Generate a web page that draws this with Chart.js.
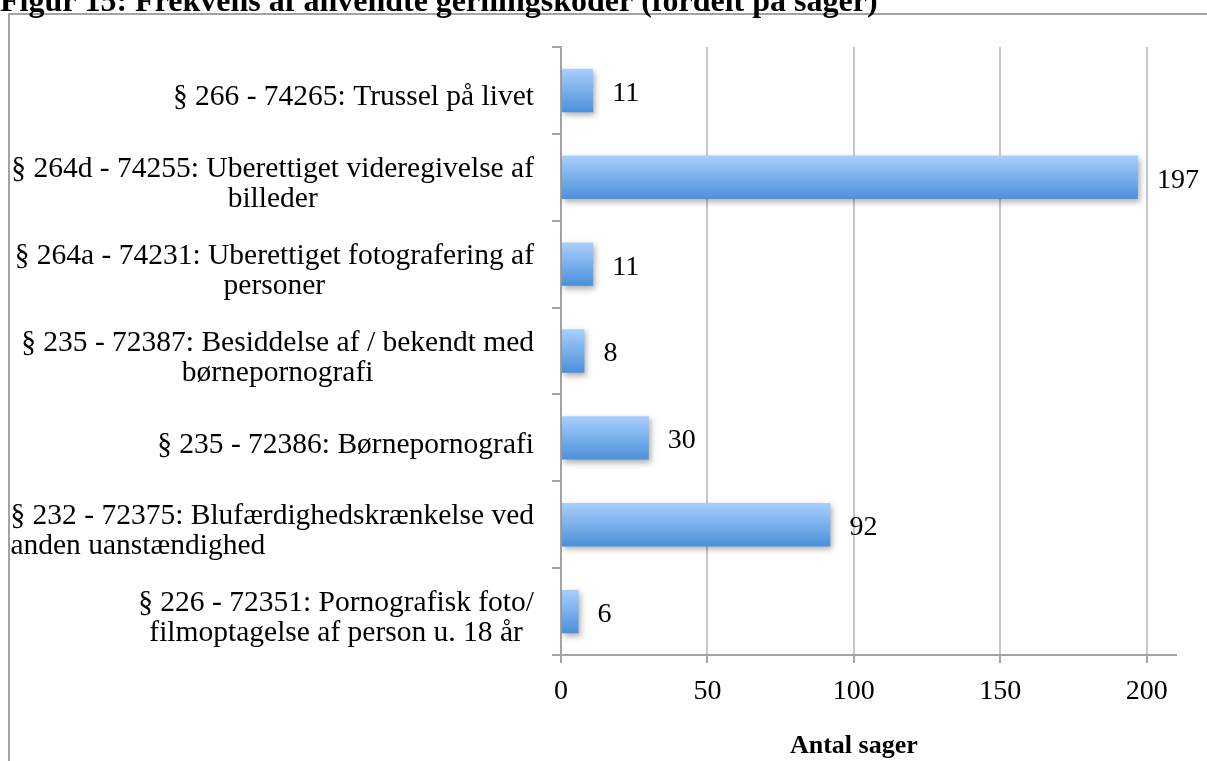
<!DOCTYPE html>
<html>
<head>
<meta charset="utf-8">
<script src="https://cdn.jsdelivr.net/npm/chart.js@4.4.1/dist/chart.umd.min.js"></script>
<style>
body{margin:0;background:#fff;overflow:hidden}
</style>
</head>
<body>
<canvas id="chart" width="1207" height="761"></canvas>
<script>
var chartTitle = 'Figur 15: Frekvens af anvendte gerningskoder (fordelt på sager)';
var axisTitle = 'Antal sager';
var categories = [
  ['§ 266 - 74265: Trussel på livet'],
  ['§ 264d - 74255: Uberettiget videregivelse af', 'billeder'],
  ['§ 264a - 74231: Uberettiget fotografering af', 'personer'],
  ['§ 235 - 72387: Besiddelse af / bekendt med', 'børnepornografi'],
  ['§ 235 - 72386: Børnepornografi'],
  ['§ 232 - 72375: Blufærdighedskrænkelse ved', 'anden uanstændighed'],
  ['§ 226 - 72351: Pornografisk foto/', 'filmoptagelse af person u. 18 år']
];
var cases = [11, 197, 11, 8, 30, 92, 6];
var xTicks = [0, 50, 100, 150, 200];
var xMax = 210;

// second line of a wrapped label: centred, except where the original left it flush
var wrapAlign = ['center', 'center', 'center', 'center', 'center', 'left', 'center'];

var serif = '"Liberation Serif", "Times New Roman", serif';
var axisGray = '#a3a3a3';

var decor = {
  id: 'decor',
  beforeDraw: function(chart) {
    var c = chart.ctx;
    c.save();
    c.strokeStyle = axisGray;
    c.lineWidth = 2;
    c.beginPath();
    c.moveTo(9, chart.height);
    c.lineTo(9, 14);
    c.lineTo(chart.width, 14);
    c.stroke();
    c.font = 'bold 32px ' + serif;
    c.fillStyle = '#000';
    c.textBaseline = 'alphabetic';
    c.textAlign = 'left';
    c.fillText(chartTitle, 0, 11);
    c.restore();
  },
  beforeDatasetsDraw: function(chart) {
    var c = chart.ctx;
    c.save();
    c.shadowColor = 'rgba(0,0,0,0.32)';
    c.shadowBlur = 6;
    c.shadowOffsetX = 2;
    c.shadowOffsetY = 3;
  },
  afterDatasetsDraw: function(chart) {
    var c = chart.ctx;
    c.restore();
    var x = chart.scales.x, y = chart.scales.y;
    c.save();
    c.font = '28px ' + serif;
    c.fillStyle = '#000';
    c.textAlign = 'left';
    c.textBaseline = 'middle';
    cases.forEach(function(v, i) {
      c.fillText(String(v), x.getPixelForValue(v) + 19, y.getPixelForValue(i) + 3);
    });
    c.restore();
  },
  afterDraw: function(chart) {
    var c = chart.ctx;
    var x = chart.scales.x, y = chart.scales.y;
    c.save();
    c.fillStyle = '#000';
    c.textAlign = 'left';
    c.textBaseline = 'middle';
    c.font = '29.5px ' + serif;
    var right = y.right - 27;
    var lh = 30;
    categories.forEach(function(lines, i) {
      var cy = y.getPixelForValue(i) + 7;
      var widths = lines.map(function(l) { return c.measureText(l).width; });
      var w = Math.max.apply(null, widths);
      lines.forEach(function(l, j) {
        var ly = cy + (j - (lines.length - 1) / 2) * lh;
        var lx = (j > 0 && wrapAlign[i] === 'left') ? right - w : right - w / 2 - widths[j] / 2;
        c.fillText(l, lx, ly);
      });
    });
    c.font = 'bold 26px ' + serif;
    c.textAlign = 'center';
    c.textBaseline = 'alphabetic';
    var mid = (xTicks[0] + xTicks[xTicks.length - 1]) / 2;
    c.fillText(axisTitle, x.getPixelForValue(mid), 753);
    c.restore();
  }
};

new Chart(document.getElementById('chart'), {
  type: 'bar',
  data: {
    labels: categories,
    datasets: [{
      data: cases,
      backgroundColor: function(ctx) {
        var chart = ctx.chart, y = chart.scales.y;
        if (!y || ctx.type !== 'data') return '#7fb0ec';
        var cy = y.getPixelForValue(ctx.dataIndex);
        var half = y.height / categories.length * 0.5 / 2;
        if (!isFinite(cy) || !isFinite(half)) return '#7fb0ec';
        var g = chart.ctx.createLinearGradient(0, cy - half, 0, cy + half);
        g.addColorStop(0, '#a9cffd');
        g.addColorStop(1, '#4b90d9');
        return g;
      },
      borderWidth: 0,
      barPercentage: 1,
      categoryPercentage: 0.5
    }]
  },
  options: {
    indexAxis: 'y',
    responsive: false,
    animation: false,
    layout: { padding: { top: 47, right: 31, bottom: 0, left: 0 } },
    plugins: {
      legend: { display: false },
      title: { display: false },
      tooltip: { enabled: false }
    },
    scales: {
      x: {
        min: 0,
        max: xMax,
        afterBuildTicks: function(scale) {
          scale.ticks = xTicks.map(function(v) { return { value: v }; });
        },
        afterFit: function(scale) { scale.height = 106; },
        ticks: {
          color: '#000',
          font: { family: serif, size: 28 },
          padding: 12,
          maxRotation: 0
        },
        grid: {
          color: '#c6c6c6',
          lineWidth: 2,
          tickColor: axisGray,
          tickLength: 8,
          drawTicks: true
        },
        border: { color: axisGray, width: 2 }
      },
      y: {
        afterFit: function(scale) { scale.width = 561; },
        ticks: { display: false },
        grid: {
          drawOnChartArea: false,
          drawTicks: true,
          tickLength: 9,
          color: axisGray,
          lineWidth: 2,
          offset: true
        },
        border: { color: axisGray, width: 2 }
      }
    }
  },
  plugins: [decor]
});
</script>
</body>
</html>
